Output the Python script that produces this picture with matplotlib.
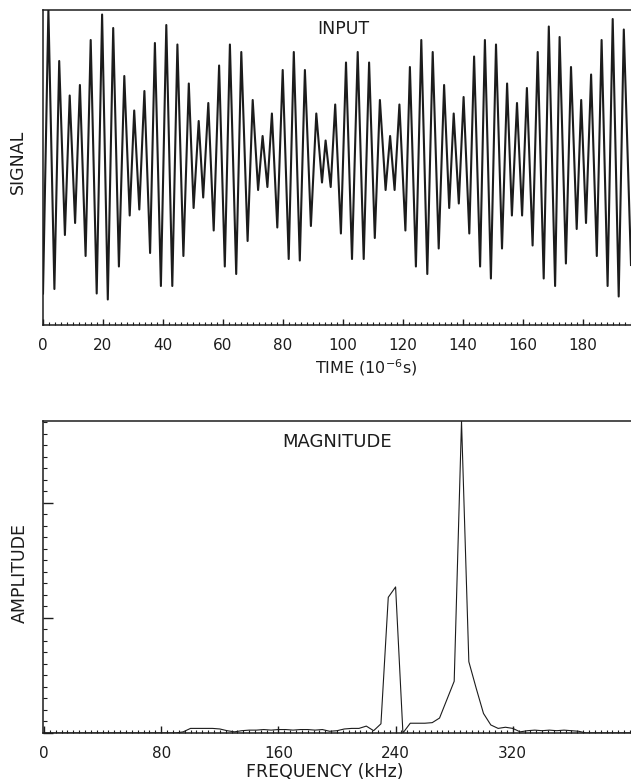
import numpy as np
import matplotlib
matplotlib.use("Agg")
import matplotlib.pyplot as plt
from matplotlib.ticker import MultipleLocator, FixedLocator

# input signal: peaks and troughs (time in us, relative signal)
sig_t = [0.0, 1.8, 3.8, 5.4, 7.3, 8.9, 10.7, 12.3, 14.2, 15.9,
         17.9, 19.7, 21.6, 23.4, 25.3, 27.1, 28.9, 30.4, 32.1, 33.8,
         35.7, 37.3, 39.3, 41.1, 43.1, 44.8, 46.8, 48.6, 50.2, 51.9,
         53.4, 55.1, 56.9, 58.7, 60.6, 62.3, 64.4, 66.1, 68.2, 69.9,
         71.7, 73.2, 74.8, 76.3, 78.1, 79.9, 81.9, 83.6, 85.6, 87.3,
         89.3, 91.1, 93.0, 94.2, 95.9, 97.4, 99.3, 101.0, 103.0, 104.9,
         106.9, 108.7, 110.6, 112.3, 114.2, 115.7, 117.2, 118.8, 120.8, 122.3,
         124.3, 126.1, 128.1, 129.9, 131.9, 133.7, 135.4, 136.9, 138.6, 140.2,
         142.1, 143.7, 145.7, 147.3, 149.3, 151.0, 153.0, 154.7, 156.3, 158.0,
         159.7, 161.3, 163.2, 164.9, 166.9, 168.6, 170.7, 172.2, 174.3, 176.0,
         177.9, 179.4, 181.0, 182.7, 184.6, 186.2, 188.2, 189.9, 191.9, 193.6,
         196.0]
sig_v = [-0.89, 1.0, -0.86, 0.66, -0.50, 0.43, -0.42, 0.50, -0.64, 0.80,
         -0.89, 0.97, -0.93, 0.88, -0.71, 0.56, -0.37, 0.33, -0.33, 0.46,
         -0.62, 0.78, -0.84, 0.90, -0.84, 0.77, -0.64, 0.51, -0.32, 0.26,
         -0.25, 0.38, -0.47, 0.63, -0.71, 0.77, -0.76, 0.72, -0.54, 0.40,
         -0.20, 0.16, -0.18, 0.31, -0.45, 0.60, -0.66, 0.72, -0.67, 0.60,
         -0.44, 0.31, -0.15, 0.13, -0.18, 0.37, -0.49, 0.65, -0.66, 0.72,
         -0.66, 0.65, -0.52, 0.40, -0.20, 0.16, -0.20, 0.37, -0.47, 0.62,
         -0.71, 0.80, -0.76, 0.72, -0.59, 0.50, -0.32, 0.31, -0.29, 0.42,
         -0.49, 0.69, -0.71, 0.80, -0.79, 0.77, -0.59, 0.51, -0.37, 0.38,
         -0.37, 0.48, -0.57, 0.72, -0.79, 0.89, -0.84, 0.82, -0.69, 0.62,
         -0.46, 0.40, -0.42, 0.57, -0.64, 0.80, -0.84, 0.94, -0.91, 0.87,
         -0.70]

# magnitude spectrum, 5 kHz bins from 0 to 400 kHz
freq = np.arange(0, 405, 5)
amp = [0, 0, 0, 0, 0, 0, 0, 0, 0, 0,
       0, 0, 0, 0, 0, 0, 0, 0, 0,
       0.01, 0.04, 0.04, 0.04, 0.04, 0.035, 0.02, 0.01, 0.02, 0.025,   # 95-140
       0.025, 0.03, 0.025, 0.03, 0.03, 0.025, 0.03, 0.03, 0.025, 0.03,  # 145-190
       0.015, 0.02, 0.035, 0.04, 0.04, 0.06, 0.02, 0.08, 1.18, 1.27,    # 195-240
       0.0, 0.085, 0.085, 0.085, 0.09, 0.13, 0.29, 0.45, 2.71, 0.62,    # 245-290
       0.39, 0.17, 0.07, 0.04, 0.05, 0.04, 0.01, 0.02, 0.025, 0.02,     # 295-340
       0.025, 0.02, 0.025, 0.02, 0.015, 0, 0, 0, 0, 0,                 # 345-390
       0, 0]                                                             # 395-400

time_ticks = [0, 20, 40, 60, 80, 100, 120, 140, 160, 180]
freq_ticks = [0, 80, 160, 240, 320]

ink = '#1c1c1c'
plt.rcParams['font.family'] = 'DejaVu Sans'

W, H = 631, 782
fig = plt.figure(figsize=(W / 100, H / 100), dpi=100)

def px_axes(left, top, right, bottom):
    return fig.add_axes([left / W, 1 - bottom / H, (right - left) / W, (bottom - top) / H])

# ---- top: input signal
ax1 = px_axes(43, 10, 631, 325)
ax1.plot(sig_t, sig_v, color=ink, lw=1.5, solid_joinstyle='round')
ax1.set_xlim(0, 196)
ax1.set_ylim(-1.1, 1.0)
ax1.xaxis.set_major_locator(FixedLocator(time_ticks))
ax1.xaxis.set_minor_locator(MultipleLocator(2))
ax1.set_xticklabels([str(v) for v in time_ticks])
ax1.set_yticks([])
ax1.tick_params(axis='x', which='major', direction='in', length=4, width=1, colors=ink,
                labelsize=11, pad=9)
ax1.tick_params(axis='x', which='minor', direction='in', length=2, width=0.8, colors=ink)
ax1.spines['right'].set_visible(False)
for s in ['left', 'top', 'bottom']:
    ax1.spines[s].set_linewidth(1.1)
    ax1.spines[s].set_color(ink)

# ---- bottom: spectrum
ax2 = px_axes(43, 421, 631, 733)
ax2.plot(freq, amp, color=ink, lw=0.8)
ax2.set_xlim(-0.7, 400.7)
ax2.set_ylim(0, 2.713)
ax2.xaxis.set_major_locator(FixedLocator(freq_ticks))
ax2.xaxis.set_minor_locator(MultipleLocator(4))
ax2.set_xticklabels([str(v) for v in freq_ticks])
ax2.yaxis.set_major_locator(MultipleLocator(1))
ax2.yaxis.set_minor_locator(MultipleLocator(0.1))
ax2.set_yticklabels([])
ax2.tick_params(axis='x', which='major', direction='in', length=5, width=1, colors=ink,
                labelsize=11, pad=9)
ax2.tick_params(axis='x', which='minor', direction='in', length=2.5, width=0.8, colors=ink)
ax2.tick_params(axis='y', which='major', direction='in', length=7, width=1, colors=ink)
ax2.tick_params(axis='y', which='minor', direction='in', length=3, width=0.8, colors=ink)
ax2.spines['right'].set_visible(False)
for s in ['left', 'top', 'bottom']:
    ax2.spines[s].set_linewidth(1.1)
    ax2.spines[s].set_color(ink)

# labels
fig.text(343 / W, 1 - 29 / H, 'INPUT', ha='center', va='center', fontsize=12.5, color=ink)
fig.text(18 / W, 1 - 162 / H, 'SIGNAL', ha='center', va='center', rotation=90,
         fontsize=12.5, color=ink)
fig.text(366 / W, 1 - 368 / H, 'TIME (10$^{-6}$s)', ha='center', va='center',
         fontsize=11.5, color=ink)
fig.text(337 / W, 1 - 442 / H, 'MAGNITUDE', ha='center', va='center', fontsize=13, color=ink)
fig.text(20 / W, 1 - 573 / H, 'AMPLITUDE', ha='center', va='center', rotation=90,
         fontsize=12.5, color=ink)
fig.text(325 / W, 1 - 772 / H, 'FREQUENCY (kHz)', ha='center', va='center',
         fontsize=12.5, color=ink)

fig.savefig('out.png', dpi=100)
